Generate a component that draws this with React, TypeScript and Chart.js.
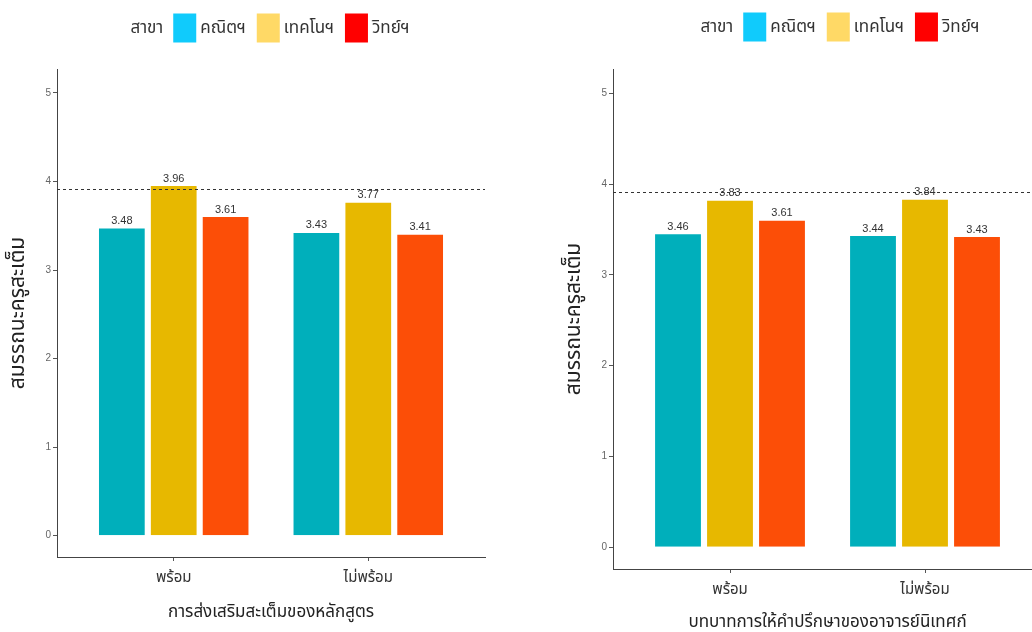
import React, { useEffect, useRef } from 'react';
import { Chart, registerables } from 'chart.js';
Chart.register(...registerables);

const seriesNames = ['คณิตฯ', 'เทคโนฯ', 'วิทย์ฯ'];
const legendTitle = 'สาขา';
const barColors = ['#00AFBB', '#E7B800', '#FC4E07'];
const legendColors = ['#10CBFC', '#FFD966', '#FF0000'];
const yTitle = 'สมรรถนะครูสะเต็ม';
const yTicks = [0, 1, 2, 3, 4, 5];
const categories = ['พร้อม', 'ไม่พร้อม'];

const leftTitle = 'การส่งเสริมสะเต็มของหลักสูตร';
const leftMath = [3.48, 3.43];
const leftTech = [3.96, 3.77];
const leftSci = [3.61, 3.41];
const leftMean = 3.92;

const rightTitle = 'บทบาทการให้คำปรึกษาของอาจารย์นิเทศก์';
const rightMath = [3.46, 3.44];
const rightTech = [3.83, 3.84];
const rightSci = [3.61, 3.43];
const rightMean = 3.91;

const THAI = "'Noto Sans Thai', 'Noto Sans', 'DejaVu Sans', sans-serif";
const NARROW = "'Liberation Sans Narrow', 'Liberation Sans', Arial, sans-serif";

type Layout = {
  left: number;
  width: number;
  height: number;
  chartLeft: number;
  chartRight: number;
  chartTop: number;
  chartBottom: number;
  yTitleX: number;
  xTitleY: number;
  legendCenterX: number;
  legendY: number;
};

function Panel({ title, series, mean, layout }: { title: string; series: number[][]; mean: number; layout: Layout }) {
  const ref = useRef<HTMLCanvasElement>(null);
  useEffect(() => {
    if (!ref.current) return;
    const L = layout;
    const overlay = {
      id: 'overlay',
      afterDatasetsDraw(chart: any) {
        const ctx = chart.ctx;
        const y = chart.scales.y;
        const area = chart.chartArea;
        ctx.save();
        ctx.font = `11px ${NARROW}`;
        ctx.fillStyle = '#333333';
        ctx.textAlign = 'center';
        ctx.textBaseline = 'bottom';
        chart.data.datasets.forEach((ds: any, di: number) => {
          const meta = chart.getDatasetMeta(di);
          meta.data.forEach((el: any, i: number) => {
            ctx.fillText(ds.data[i].y.toFixed(2), el.x, el.y - 1);
          });
        });
        const py = Math.round(y.getPixelForValue(mean)) + 0.5;
        ctx.strokeStyle = '#333333';
        ctx.lineWidth = 1;
        ctx.setLineDash([3, 3]);
        ctx.beginPath();
        ctx.moveTo(area.left, py);
        ctx.lineTo(area.right, py);
        ctx.stroke();
        ctx.restore();
      },
      afterDraw(chart: any) {
        const ctx = chart.ctx;
        ctx.save();
        ctx.font = `17px ${THAI}`;
        ctx.textBaseline = 'middle';
        const boxW = 23;
        const boxH = 29;
        const gapTitle = 10;
        const gapLabel = 4;
        const gapItem = 11;
        let total = ctx.measureText(legendTitle).width + gapTitle;
        seriesNames.forEach((n, i) => {
          total += boxW + gapLabel + ctx.measureText(n).width + (i < seriesNames.length - 1 ? gapItem : 0);
        });
        let x = L.legendCenterX - total / 2;
        const ty = L.legendY + 2;
        ctx.fillStyle = '#333333';
        ctx.textAlign = 'left';
        ctx.fillText(legendTitle, x, ty);
        x += ctx.measureText(legendTitle).width + gapTitle;
        seriesNames.forEach((n, i) => {
          ctx.fillStyle = legendColors[i];
          ctx.fillRect(x, L.legendY - boxH / 2, boxW, boxH);
          x += boxW + gapLabel;
          ctx.fillStyle = '#333333';
          ctx.fillText(n, x, ty);
          x += ctx.measureText(n).width + gapItem;
        });
        ctx.restore();
      },
    };
    const chart = new Chart(ref.current, {
      type: 'bar',
      data: {
        datasets: series.map((vals, k) => ({
          label: seriesNames[k],
          data: vals.map((v, i) => ({ x: i + 1, y: v })),
          backgroundColor: barColors[k],
          borderColor: '#ffffff',
          borderWidth: 1,
          categoryPercentage: 0.8,
          barPercentage: 0.92,
        })),
      },
      options: {
        animation: false,
        responsive: false,
        maintainAspectRatio: false,
        layout: { padding: { top: L.chartTop, right: L.width - L.chartRight, left: 0, bottom: 0 } },
        plugins: { legend: { display: false }, tooltip: { enabled: false } },
        scales: {
          x: {
            type: 'linear',
            min: 0.4,
            max: 2.6,
            offset: false,
            afterBuildTicks: (s: any) => {
              s.ticks = categories.map((_, i) => ({ value: i + 1 }));
            },
            afterFit: (s: any) => {
              s.height = L.height - L.chartBottom;
            },
            ticks: {
              callback: (v: any) => categories[Number(v) - 1] ?? '',
              font: { family: THAI, size: 15 },
              color: '#333333',
              padding: 9,
              maxRotation: 0,
              autoSkip: false,
            },
            grid: { drawOnChartArea: false, offset: false, tickLength: 4, color: '#555555' },
            border: { display: true, color: '#444444', width: 1 },
            title: {
              display: true,
              text: title,
              font: { family: THAI, size: 17, lineHeight: 1 },
              color: '#222222',
              padding: { top: 0, bottom: L.height - L.xTitleY - 8.5 },
            },
          },
          y: {
            min: -0.24,
            max: 5.27,
            afterBuildTicks: (s: any) => {
              s.ticks = yTicks.map((v) => ({ value: v }));
            },
            afterFit: (s: any) => {
              s.width = L.chartLeft;
            },
            ticks: {
              font: { family: NARROW, size: 10 },
              color: '#666666',
              padding: 2,
            },
            grid: { drawOnChartArea: false, tickLength: 4, color: '#555555' },
            border: { display: true, color: '#444444', width: 1 },
            title: {
              display: true,
              text: yTitle,
              font: { family: THAI, size: 21, lineHeight: 1 },
              color: '#222222',
              padding: { top: L.yTitleX - 10.5, bottom: 0 },
            },
          },
        },
      },
      plugins: [overlay],
    } as any);
    return () => chart.destroy();
  }, []);
  return (
    <canvas
      ref={ref}
      width={layout.width}
      height={layout.height}
      style={{ position: 'absolute', left: layout.left, top: 0, width: layout.width, height: layout.height }}
    />
  );
}

export default function App() {
  const leftLayout: Layout = {
    left: 0,
    width: 500,
    height: 632,
    chartLeft: 57,
    chartRight: 485,
    chartTop: 69,
    chartBottom: 557,
    yTitleX: 20,
    xTitleY: 614,
    legendCenterX: 270,
    legendY: 28,
  };
  const rightLayout: Layout = {
    left: 540,
    width: 520,
    height: 632,
    chartLeft: 73,
    chartRight: 502,
    chartTop: 69,
    chartBottom: 569,
    yTitleX: 36,
    xTitleY: 624,
    legendCenterX: 300,
    legendY: 27,
  };
  return (
    <div style={{ position: 'fixed', left: 0, top: 0, width: 1032, height: 632, overflow: 'hidden', background: '#ffffff' }}>
      <Panel title={leftTitle} series={[leftMath, leftTech, leftSci]} mean={leftMean} layout={leftLayout} />
      <Panel title={rightTitle} series={[rightMath, rightTech, rightSci]} mean={rightMean} layout={rightLayout} />
    </div>
  );
}
